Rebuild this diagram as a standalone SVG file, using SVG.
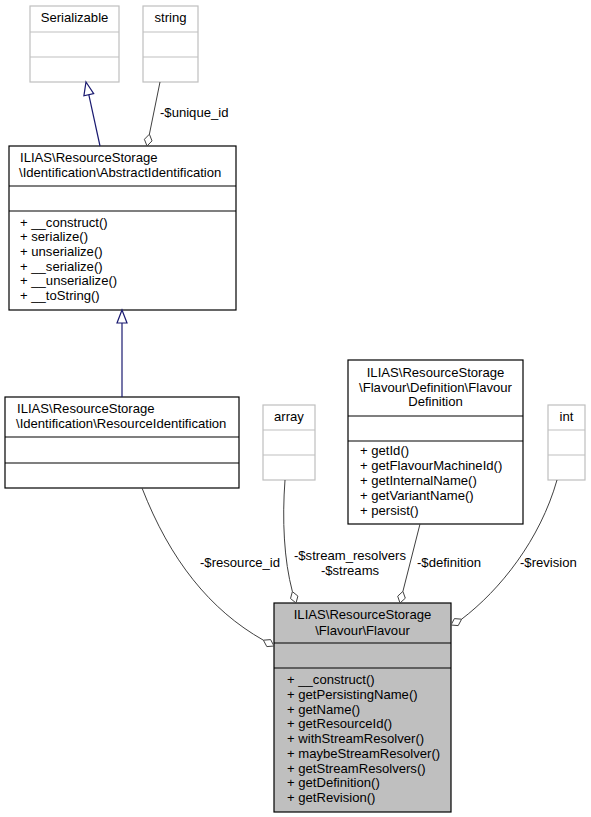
<svg xmlns="http://www.w3.org/2000/svg" width="591" height="817" viewBox="0 0 591 817">
<style>
text{font-family:"Liberation Sans",Arial,sans-serif;font-size:13.1px;fill:#000}
.c{text-anchor:middle}
.box{fill:#fff;stroke:#000;stroke-width:1.2}
.gbox{fill:#fff;stroke:#bfbfbf;stroke-width:1.2}
.main{fill:#bfbfbf;stroke:#000;stroke-width:1.2}
.div{stroke:#000;stroke-width:1.2}
.gdiv{stroke:#bfbfbf;stroke-width:1.2}
.gen{fill:none;stroke:#191970;stroke-width:1.2}
.genh{fill:#fff;stroke:#191970;stroke-width:1.2}
.agg{fill:none;stroke:#404040;stroke-width:1}
.aggh{fill:#fff;stroke:#404040;stroke-width:1}
</style>
<rect width="591" height="817" fill="#fff"/>
<g id="serializable">
<rect class="gbox" x="30" y="6" width="89" height="76"/>
<line class="gdiv" x1="30" y1="32" x2="119" y2="32"/>
<line class="gdiv" x1="30" y1="57" x2="119" y2="57"/>
<text class="c" x="74.5" y="22">Serializable</text>
</g>
<g id="string">
<rect class="gbox" x="143" y="6" width="55" height="76"/>
<line class="gdiv" x1="143" y1="32" x2="198" y2="32"/>
<line class="gdiv" x1="143" y1="57" x2="198" y2="57"/>
<text class="c" x="170.5" y="22">string</text>
</g>
<g id="abstractidentification">
<rect class="box" x="9" y="146" width="227" height="164"/>
<line class="div" x1="9" y1="186" x2="236" y2="186"/>
<line class="div" x1="9" y1="211" x2="236" y2="211"/>
<text x="20" y="162">ILIAS\ResourceStorage</text>
<text x="19" y="177">\Identification\AbstractIdentification</text>
<text x="20" y="226.5">+ __construct()</text>
<text x="20" y="241.2">+ serialize()</text>
<text x="20" y="255.9">+ unserialize()</text>
<text x="20" y="270.6">+ __serialize()</text>
<text x="20" y="285.3">+ __unserialize()</text>
<text x="20" y="300">+ __toString()</text>
</g>
<g id="resourceidentification">
<rect class="box" x="5" y="397" width="234" height="91"/>
<line class="div" x1="5" y1="437" x2="239" y2="437"/>
<line class="div" x1="5" y1="463" x2="239" y2="463"/>
<text x="17" y="413">ILIAS\ResourceStorage</text>
<text x="16" y="428">\Identification\ResourceIdentification</text>
</g>
<g id="array">
<rect class="gbox" x="263" y="405" width="52" height="75"/>
<line class="gdiv" x1="263" y1="430" x2="315" y2="430"/>
<line class="gdiv" x1="263" y1="455" x2="315" y2="455"/>
<text class="c" x="289" y="421">array</text>
</g>
<g id="flavourdefinition">
<rect class="box" x="348" y="360" width="175" height="164"/>
<line class="div" x1="348" y1="416" x2="523" y2="416"/>
<line class="div" x1="348" y1="441" x2="523" y2="441"/>
<text class="c" x="435.5" y="377">ILIAS\ResourceStorage</text>
<text class="c" x="435.5" y="392">\Flavour\Definition\Flavour</text>
<text class="c" x="435.5" y="406">Definition</text>
<text x="360" y="455">+ getId()</text>
<text x="360" y="470">+ getFlavourMachineId()</text>
<text x="360" y="485">+ getInternalName()</text>
<text x="360" y="500">+ getVariantName()</text>
<text x="360" y="515">+ persist()</text>
</g>
<g id="int">
<rect class="gbox" x="548" y="405" width="37" height="75"/>
<line class="gdiv" x1="548" y1="430" x2="585" y2="430"/>
<line class="gdiv" x1="548" y1="455" x2="585" y2="455"/>
<text class="c" x="566.5" y="421">int</text>
</g>
<g id="flavour">
<rect class="main" x="274" y="603" width="177" height="209"/>
<line class="div" x1="274" y1="643" x2="451" y2="643"/>
<line class="div" x1="274" y1="668" x2="451" y2="668"/>
<text class="c" x="362.5" y="619">ILIAS\ResourceStorage</text>
<text class="c" x="362.5" y="635">\Flavour\Flavour</text>
<text x="287" y="684">+ __construct()</text>
<text x="287" y="698.75">+ getPersistingName()</text>
<text x="287" y="713.5">+ getName()</text>
<text x="287" y="728.25">+ getResourceId()</text>
<text x="287" y="743">+ withStreamResolver()</text>
<text x="287" y="757.75">+ maybeStreamResolver()</text>
<text x="287" y="772.5">+ getStreamResolvers()</text>
<text x="287" y="787.25">+ getDefinition()</text>
<text x="287" y="802">+ getRevision()</text>
</g>
<g id="connectors">
<path class="gen" d="M100,146 L88.8,94.7"/>
<polygon class="genh" points="86,82 93.7,93.6 83.9,95.8"/>
<path class="agg" d="M160,82 L149.4,134.2"/>
<polygon class="aggh" points="147,146 144.4,139.3 149.4,134.2 152,140.9"/>
<text x="160" y="117">-$unique_id</text>
<path class="gen" d="M122,397 L122,323"/>
<polygon class="genh" points="122,310 127,323 117,323"/>
<path class="agg" d="M142,488 C170,560 210,610 263.4,640.2"/>
<polygon class="aggh" points="274,646 266.8,646.6 263.4,640.2 270.6,639.6"/>
<text x="200" y="567">-$resource_id</text>
<path class="agg" d="M285,480 C282,520 284,560 292.4,591.6"/>
<polygon class="aggh" points="296,603 290.5,598.5 292.4,591.6 297.9,596.1"/>
<text class="c" x="350" y="560">-$stream_resolvers</text>
<text class="c" x="350" y="575">-$streams</text>
<path class="agg" d="M420,524 L402.9,591.4"/>
<polygon class="aggh" points="400,603 397.7,596.2 402.9,591.4 405.3,598.2"/>
<text x="417" y="567">-$definition</text>
<path class="agg" d="M557,480 C540,540 500,590 461.6,619.2"/>
<polygon class="aggh" points="451,625 458.2,625.6 461.6,619.2 454.4,618.6"/>
<text x="520" y="567">-$revision</text>
</g>
</svg>
